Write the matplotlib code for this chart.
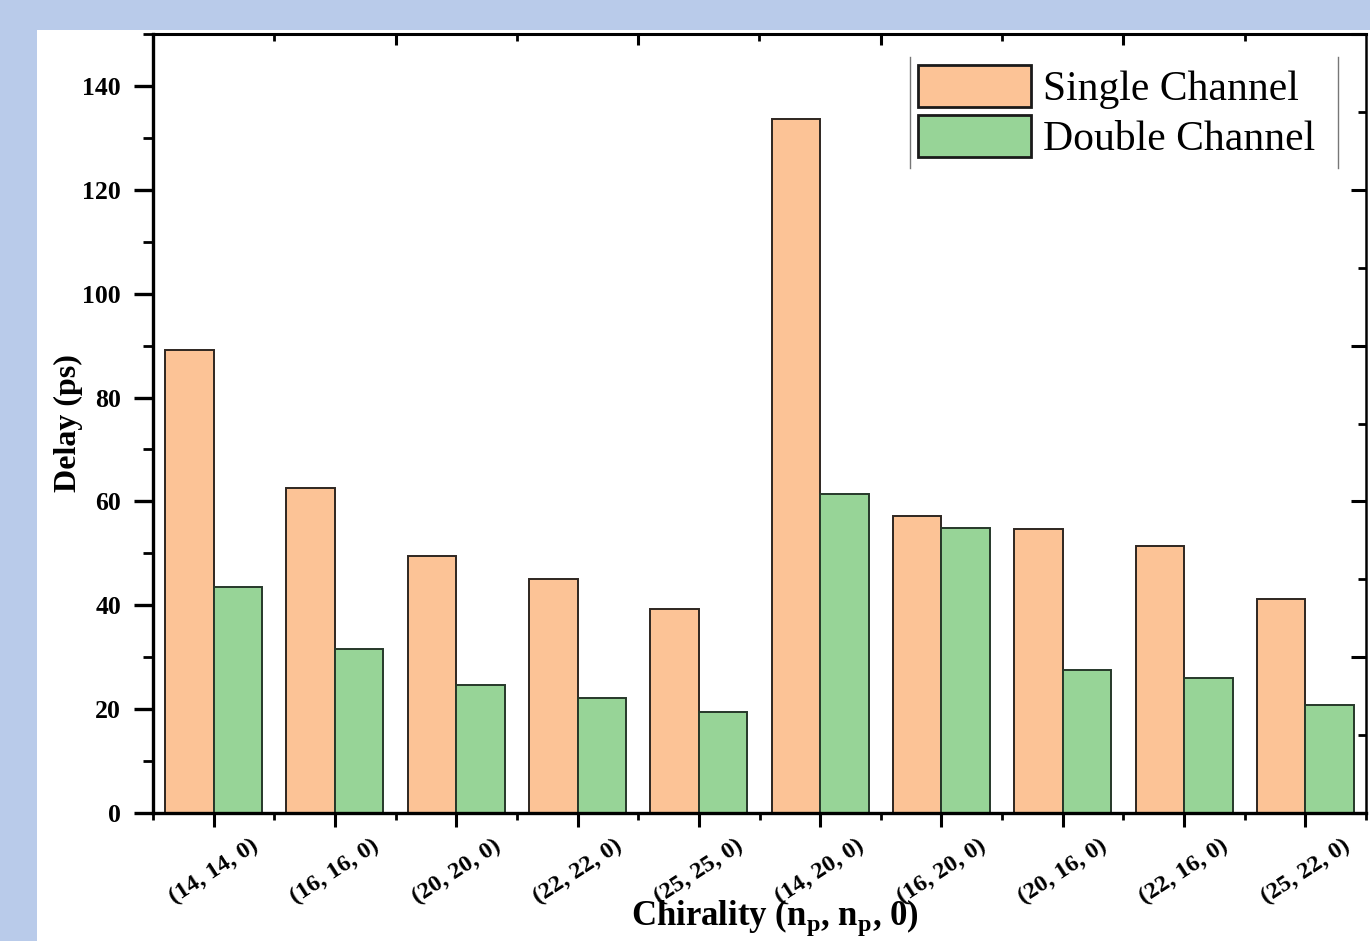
import matplotlib
matplotlib.use("Agg")
import matplotlib.pyplot as plt
from matplotlib.ticker import FixedLocator, MultipleLocator
from matplotlib.lines import Line2D
from matplotlib.patches import Rectangle
import numpy as np

categories = ["(14, 14, 0)", "(16, 16, 0)", "(20, 20, 0)", "(22, 22, 0)", "(25, 25, 0)",
              "(14, 20, 0)", "(16, 20, 0)", "(20, 16, 0)", "(22, 16, 0)", "(25, 22, 0)"]
single_channel = [89.2, 62.6, 49.5, 45.1, 39.3, 133.6, 57.2, 54.7, 51.4, 41.2]
double_channel = [43.5, 31.6, 24.6, 22.1, 19.4, 61.4, 54.9, 27.5, 26.0, 20.8]
series_names = ["Single Channel", "Double Channel"]

serif = ["Liberation Serif", "DejaVu Serif"]
plt.rcParams["font.family"] = serif
plt.rcParams["mathtext.fontset"] = "custom"
plt.rcParams["mathtext.rm"] = "Liberation Serif"
plt.rcParams["mathtext.bf"] = "Liberation Serif:bold"

fig = plt.figure(figsize=(13.7, 9.41), dpi=100)
fig.patch.set_facecolor("#b9cbea")
W, H = 1370, 941
# white panel
fig.add_artist(Rectangle((37 / W, 0), 1, 1 - 30 / H, transform=fig.transFigure,
                         facecolor="white", edgecolor="none", zorder=-10))

ax = fig.add_axes([153 / W, 1 - 813 / H, (1366 - 153) / W, (813 - 34) / H])
ax.set_facecolor("white")

x = np.arange(len(categories))
bw = 0.4
ax.bar(x - bw / 2, single_channel, bw, color="#fcc396", edgecolor="#2e2620", linewidth=1.4,
       label=series_names[0], zorder=2)
ax.bar(x + bw / 2, double_channel, bw, color="#97d497", edgecolor="#26382a", linewidth=1.4,
       label=series_names[1], zorder=2)

ax.set_xlim(-0.5, 9.5)
ax.set_ylim(0, 150)

ax.set_xticks(x)
ax.set_xticklabels(categories, rotation=33, ha="center", fontsize=17.5, fontweight="bold")
ax.xaxis.set_minor_locator(FixedLocator(np.arange(-0.5, 10, 1.0)))
ax.set_yticks(np.arange(0, 141, 20))
ax.yaxis.set_minor_locator(MultipleLocator(10))
for lab in ax.get_yticklabels():
    lab.set_fontsize(18.5)
    lab.set_fontweight("bold")

ax.tick_params(axis="y", which="major", direction="out", length=14, width=2.4, pad=9)
ax.tick_params(axis="y", which="minor", direction="out", length=7, width=2.0)
ax.tick_params(axis="x", which="major", direction="out", length=10, width=2.2, pad=6)
ax.tick_params(axis="x", which="minor", direction="out", length=5, width=2.0)
ax.tick_params(top=False, right=False, which="both")

for side, lw in [("left", 2.4), ("bottom", 2.4), ("top", 2.2), ("right", 1.8)]:
    ax.spines[side].set_linewidth(lw)

# right ticks
axr = ax.twinx()
axr.set_ylim(0, 150)
axr.yaxis.set_major_locator(MultipleLocator(30))
axr.yaxis.set_minor_locator(FixedLocator(np.arange(15, 150, 30)))
axr.tick_params(axis="y", which="major", direction="in", length=11, width=2.2, labelright=False)
axr.tick_params(axis="y", which="minor", direction="in", length=6, width=2.0)
for s in axr.spines.values():
    s.set_visible(False)

# top ticks
axt = ax.twiny()
axt.set_xlim(-0.5, 9.5)
axt.xaxis.set_major_locator(FixedLocator([1.5, 3.5, 5.5, 7.5]))
axt.xaxis.set_minor_locator(FixedLocator([0.5, 2.5, 4.5, 6.5, 8.5]))
axt.tick_params(axis="x", which="major", direction="in", length=8, width=2.2, labeltop=False)
axt.tick_params(axis="x", which="minor", direction="in", length=5, width=2.0)
for s in axt.spines.values():
    s.set_visible(False)

ax.set_ylabel("Delay (ps)", fontsize=23, fontweight="bold")
ax.yaxis.set_label_coords(-0.058, 0.5)
ax.set_xlabel(r"Chirality (n$_\mathbf{p}$, n$_\mathbf{p}$, 0)", fontsize=25, fontweight="bold",
              va="bottom")
ax.xaxis.set_label_coords(0.513, (813 - 938) / 779)

leg = ax.legend(loc="upper left", bbox_to_anchor=((910 - 153) / 1213, (813 - 57) / 779),
                borderaxespad=0, borderpad=0.2, fontsize=30, frameon=False,
                handlelength=2.7, handleheight=1.15, handletextpad=0.3, labelspacing=0.15)
for p in leg.get_patches():
    p.set_linewidth(2.0)
    p.set_edgecolor("#1a1a1a")

fig.canvas.draw()
bb = leg.get_window_extent()
for xx in (bb.x0, bb.x1 + 14):
    fig.add_artist(Line2D([xx / W, xx / W], [bb.y0 / H, bb.y1 / H], transform=fig.transFigure,
                          color="#777777", linewidth=1.0))

fig.savefig("out.png", dpi=100, facecolor=fig.get_facecolor())
